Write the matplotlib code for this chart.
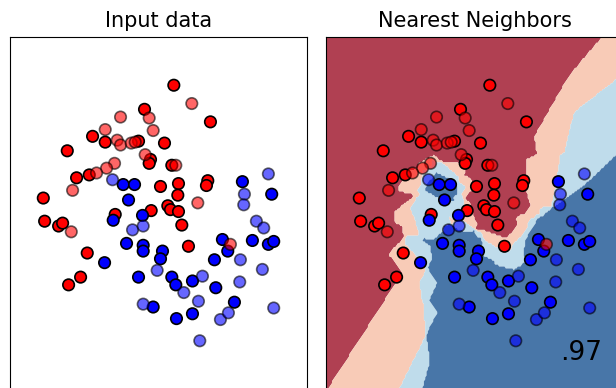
import numpy as np
import matplotlib
matplotlib.use("Agg")
import matplotlib.pyplot as plt
from matplotlib.colors import ListedColormap

# ---- data (two-moons) ----
red_train_x = [0.23, -0.21, 0.78, -0.99, -0.80, -0.30, 0.09, -1.37, -0.12, -0.14, 0.20,
               -1.23, -1.04, 0.03, 0.30, 0.74, 0.72, -1.73, 0.29, 0.14, 0.18, 0.30,
               -0.11, -0.65, -1.71, -1.50, -1.44, 0.35, -1.07, 0.45, -1.17, -1.35]
red_train_y = [1.32, 1.07, 0.94, 0.79, 0.73, 0.74, 0.72, 0.64, 0.55, 0.51, 0.49,
               0.36, 0.39, 0.27, 0.30, 0.33, 0.28, 0.15, 0.18, 0.07, 0.03, 0.01,
               0.02, -0.02, -0.09, -0.14, -0.11, -0.13, -0.42, -0.35, -0.67, -0.75]
red_test_x = [0.50, -0.57, -0.14, -0.80, -0.08, -0.62, -0.57, -0.41, -0.35, -0.20,
              -0.66, -0.78, -0.93, 0.26, -1.29, 0.59, -1.31, 1.08]
red_test_y = [1.13, 0.99, 0.98, 0.86, 0.85, 0.75, 0.70, 0.72, 0.73, 0.60,
              0.51, 0.46, 0.41, 0.49, 0.23, 0.10, -0.20, -0.33]
blue_train_x = [-0.53, -0.36, -0.45, -0.68, -0.24, -0.48, -0.23, -0.23, 0.06, 0.03,
                -0.81, -0.30, 0.20, 0.26, 0.51, 0.86, -0.08, 0.27, 0.51, 1.14,
                0.84, 0.96, 1.04, 1.41, 1.65, 1.73, 1.26, 1.70]
blue_train_y = [0.29, 0.29, 0.13, -0.08, -0.03, -0.32, -0.34, -0.40, -0.40, -0.48,
                -0.52, -0.67, -0.67, -0.75, -0.71, -0.78, -0.98, -1.10, -1.05, -0.93,
                -0.49, -0.28, -0.40, -0.29, -0.33, -0.30, 0.32, 0.19]
blue_test_x = [-0.69, -0.39, -0.23, -0.02, 0.66, 0.38, 0.60, -0.23, 0.62, 0.93,
               1.05, 1.23, 1.22, 1.56, 1.73, 1.29, 1.28, 1.47, 1.58, 1.65]
blue_test_y = [0.34, -0.18, -0.14, -0.60, -0.66, -0.83, -0.92, -0.95, -1.33, -1.11,
               -1.04, -0.49, -0.72, -0.59, -0.99, 0.19, 0.08, -0.09, -0.16, 0.40]

titles = ["Input data", "Nearest Neighbors"]
score_text = ".97"
n_neighbors = 3

# ---- assemble ----
X_train = np.column_stack([red_train_x + blue_train_x, red_train_y + blue_train_y])
y_train = np.array([0] * len(red_train_x) + [1] * len(blue_train_x))
X_test = np.column_stack([red_test_x + blue_test_x, red_test_y + blue_test_y])
y_test = np.array([0] * len(red_test_x) + [1] * len(blue_test_x))
X_all = np.vstack([X_train, X_test])

x_min, x_max = X_all[:, 0].min() - 0.5, X_all[:, 0].max() + 0.5
y_min, y_max = X_all[:, 1].min() - 0.5, X_all[:, 1].max() + 0.5

h = 0.02
xx, yy = np.meshgrid(np.arange(x_min, x_max, h), np.arange(y_min, y_max, h))
grid = np.column_stack([xx.ravel(), yy.ravel()])

# StandardScaler + KNN(3), fitted on the training points
mu = X_train.mean(axis=0)
sd = X_train.std(axis=0)
Ztr = (X_train - mu) / sd
Zg = (grid - mu) / sd
d = ((Zg[:, None, :] - Ztr[None, :, :]) ** 2).sum(axis=2)
nn = np.argsort(d, axis=1)[:, :n_neighbors]
blue_votes = y_train[nn].sum(axis=1).reshape(xx.shape)

cm_bright = ListedColormap(["#FF0000", "#0000FF"])
surface_colors = ["#B04052", "#F8CBB7", "#BFDCEB", "#4876A8"]

W, H = 616, 388
fig = plt.figure(figsize=(W / 100, H / 100), dpi=100)
ax_w = 297 / W
ax_h = 352 / H
bottom = (H - 389) / H
ax1 = fig.add_axes([10 / W, bottom, ax_w, ax_h])
ax2 = fig.add_axes([326 / W, bottom, ax_w, ax_h])

for ax, title in zip([ax1, ax2], titles):
    ax.set_title(title, fontsize=15, pad=7)
    ax.set_xlim(x_min, x_max)
    ax.set_ylim(y_min, y_max)
    ax.set_xticks(())
    ax.set_yticks(())

ax2.contourf(xx, yy, blue_votes, levels=[-0.5, 0.5, 1.5, 2.5, 3.5],
             colors=surface_colors, antialiased=True)

for ax in (ax1, ax2):
    ax.scatter(X_train[:, 0], X_train[:, 1], c=y_train, cmap=cm_bright,
               edgecolors="k", s=68, linewidths=1.2, zorder=3)
    ax.scatter(X_test[:, 0], X_test[:, 1], c=y_test, cmap=cm_bright,
               edgecolors="k", alpha=0.6, s=68, linewidths=1.2, zorder=3)

ax2.text(xx.max() - 0.3, yy.min() + 0.3, score_text, size=19,
         horizontalalignment="right", zorder=4)

fig.savefig("out.png", dpi=100)
